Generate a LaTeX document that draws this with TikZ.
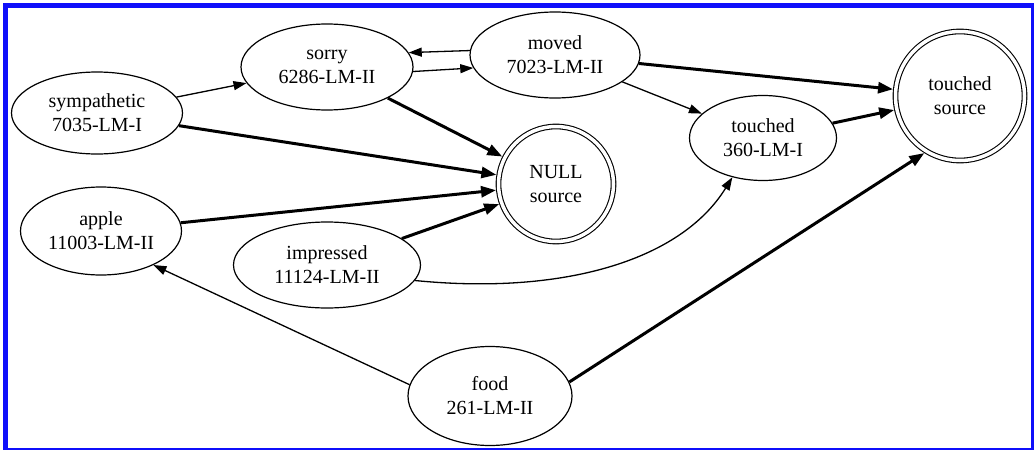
\documentclass[tikz,border=0pt]{standalone}
\usepackage{fontspec}
\setmainfont{Liberation Serif}
\usetikzlibrary{shapes.geometric,arrows.meta}
\definecolor{frameblue}{RGB}{15,15,250}
\tikzset{
  every node/.style={font=\fontsize{20}{24}\selectfont, align=center, text=black},
  oval/.style={ellipse, draw, line width=1.2pt, inner sep=0pt},
  dcirc/.style={circle, draw, double, double distance=3.5pt, line width=1.1pt, inner sep=0pt, outer sep=2.8pt},
  thinarr/.style={line width=1.3pt, -{Triangle[length=13pt,width=9pt]}},
  thickarr/.style={line width=3pt, -{Triangle[length=15pt,width=11pt]}},
}
\begin{document}
\begin{tikzpicture}[x=1pt,y=-1pt]
\useasboundingbox (0,0) rectangle (1034,450);
\fill[frameblue] (3,3) rectangle (1034,450);
\fill[white] (8,8) rectangle (1031,448);

\node[oval, minimum width=171pt, minimum height=82pt] (sym) at (97,113) {sympathetic\\7035-LM-I};
\node[oval, minimum width=172pt, minimum height=86pt] (sorry) at (327,67) {sorry\\6286-LM-II};
\node[oval, minimum width=170pt, minimum height=86pt] (moved) at (555,55) {moved\\7023-LM-II};
\node[dcirc, minimum size=115pt] (null) at (556,184) {NULL\\source};
\node[oval, minimum width=147pt, minimum height=85pt] (t360) at (763,138) {touched\\360-LM-I};
\node[dcirc, minimum size=129pt] (ts) at (960,96) {touched\\source};
\node[oval, minimum width=161pt, minimum height=88pt] (apple) at (101,231) {apple\\11003-LM-II};
\node[oval, minimum width=187pt, minimum height=86pt] (imp) at (327,265) {impressed\\11124-LM-II};
\node[oval, minimum width=164pt, minimum height=99pt] (food) at (490,396) {food\\261-LM-II};

\draw[thinarr] (sym) -- (sorry);
\draw[thickarr] (sym) -- (null);
\draw[thickarr] (sorry) -- (null);
\draw[thickarr] (apple) -- (null);
\draw[thickarr] (imp) -- (null);
\draw[thinarr] (moved.177) -- (sorry.10);
\draw[thinarr] (sorry.-3) -- (moved.189);
\draw[thickarr] (moved) -- (ts);
\draw[thinarr] (moved) -- (t360);
\draw[thickarr] (t360) -- (ts);
\draw[thinarr] (imp.-10) .. controls (560,295) and (680,262) .. (t360.-128);
\draw[thinarr] (food.172) -- (apple.-33);
\draw[thickarr] (food.10) -- (ts.-122);
\end{tikzpicture}
\end{document}
